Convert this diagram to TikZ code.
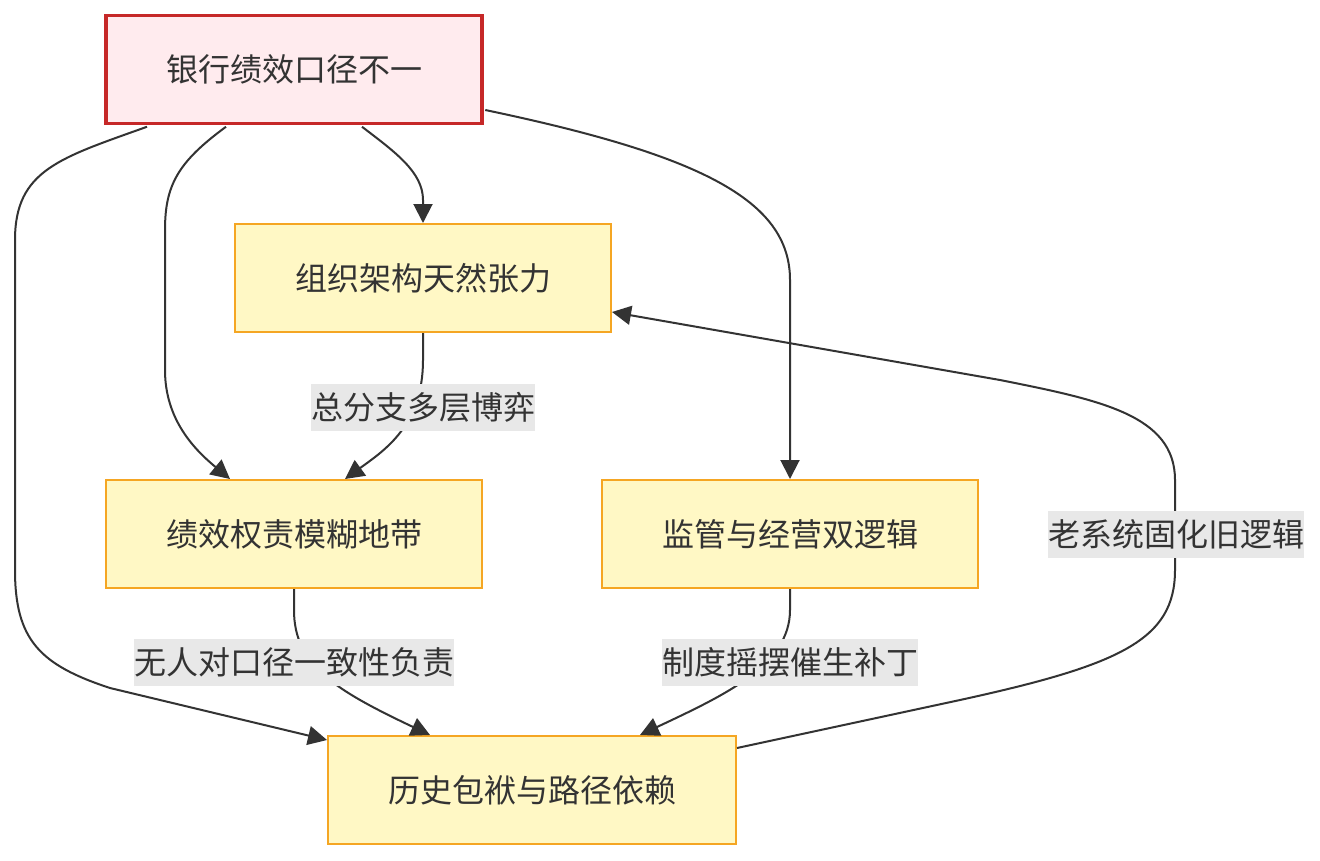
\documentclass[tikz,border=0pt]{standalone}
\usepackage{fontspec}
\newfontfamily\cjk{Noto Sans CJK SC}
\usetikzlibrary{arrows.meta,calc}
\definecolor{txt}{HTML}{333333}
\definecolor{redb}{HTML}{C62828}
\definecolor{redf}{HTML}{FFEBEE}
\definecolor{orb}{HTML}{F5A623}
\definecolor{yelf}{HTML}{FFF8C5}
\definecolor{lblbg}{HTML}{E8E8E8}
\tikzset{
  box/.style={draw=orb, line width=2pt, fill=yelf, minimum width=376pt, minimum height=108pt, inner sep=0pt, text=txt, font=\cjk\fontsize{32pt}{38pt}\selectfont},
  rootbox/.style={box, draw=redb, line width=3.5pt, fill=redf},
  edge/.style={draw=txt, line width=2pt, -{Triangle[length=19pt,width=19pt]}},
  lbl/.style={fill=lblbg, text=txt, inner xsep=0pt, inner ysep=0pt, minimum height=47pt, font=\cjk\fontsize{32pt}{38pt}\selectfont}
}
\begin{document}
\begin{tikzpicture}[x=1pt,y=-1pt]
\useasboundingbox (0,0) rectangle (1320,860);
\fill[white] (0,0) rectangle (1320,860);
\node[rootbox] (A) at (294,69.5) {银行绩效口径不一};
\node[box] (B) at (423,278) {组织架构天然张力};
\node[box] (C) at (294,534) {绩效权责模糊地带};
\node[box] (D) at (790,534) {监管与经营双逻辑};
\node[box, minimum width=408pt] (E) at (532,790) {历史包袱与路径依赖};

% root edges
\draw[edge] ($(A.south)+(68,1.5)$) .. controls (395,152) and (423,172) .. (423,200) -- (B.north);
\draw[edge] ($(A.south)+(-68,1.5)$) .. controls (178,162) and (165,185) .. (165,230) -- (165,370) .. controls (165,420) and (195,450) .. ($(C.north)+(-64,0)$);
\draw[edge] ($(A.south)+(-147,1.5)$) .. controls (60,158) and (15,170) .. (15,240) -- (15,570) .. controls (15,640) and (40,665) .. (110,688) -- ($(E.north west)+(0,5)$);
\draw[edge] ($(A.east)+(1.5,40.5)$) .. controls (700,155) and (790,200) .. (790,280) -- (D.north);

% other edges
\draw[edge] (B.south) -- (423,360) .. controls (423,425) and (385,450) .. ($(C.north)+(51,0)$);
\draw[edge] (C.south) -- (294,610) .. controls (294,665) and (335,690) .. ($(E.north)+(-102,0)$);
\draw[edge] (D.south) -- (790,610) .. controls (790,665) and (725,695) .. ($(E.north)+(108,0)$);
\draw[edge] ($(E.east)+(0,-42)$) -- (960,700) .. controls (1120,665) and (1175,640) .. (1175,570) -- (1175,480) .. controls (1175,415) and (1100,400) .. (1000,380) -- ($(B.east)+(0,34)$);

% labels
\node[lbl] (L1) at (423,407) {总分支多层博弈};
\node[lbl] (L2) at (294,662) {无人对口径一致性负责};
\node[lbl] (L3) at (790,662) {制度摇摆催生补丁};
\node[lbl] (L4) at (1176,534) {老系统固化旧逻辑};
\end{tikzpicture}
\end{document}
